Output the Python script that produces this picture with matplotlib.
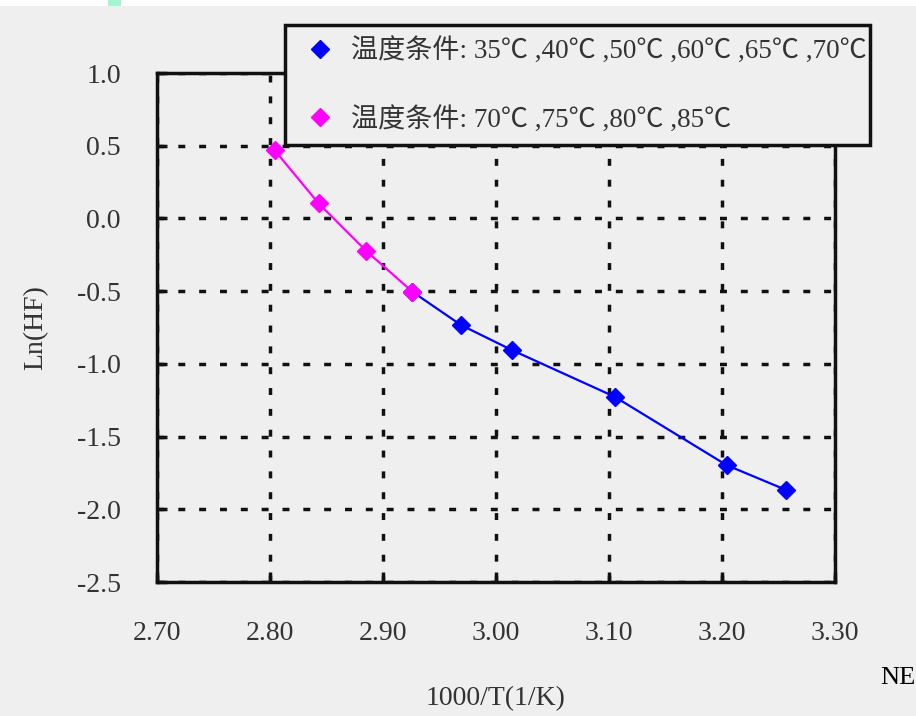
import matplotlib
matplotlib.use("Agg")
import matplotlib.pyplot as plt
from matplotlib.patches import Rectangle

# values
x_high = [2.804, 2.843, 2.885, 2.926]          # 70-85 C
ln_hf_high = [0.470, 0.104, -0.222, -0.504]
x_low = [2.926, 2.969, 3.014, 3.105, 3.204, 3.257]   # 35-70 C
ln_hf_low = [-0.504, -0.733, -0.905, -1.226, -1.696, -1.868]

label_low = "温度条件: 35℃ ,40℃ ,50℃ ,60℃ ,65℃ ,70℃"
label_high = "温度条件: 70℃ ,75℃ ,80℃ ,85℃"
x_ticks = [2.70, 2.80, 2.90, 3.00, 3.10, 3.20, 3.30]
y_ticks = [1.0, 0.5, 0.0, -0.5, -1.0, -1.5, -2.0, -2.5]

bg = "#efefef"
txt = "#333333"
serif = ["Liberation Serif", "Noto Sans CJK SC", "DejaVu Sans"]
plt.rcParams["font.family"] = serif

W, H = 916, 716
fig = plt.figure(figsize=(W / 100, H / 100), dpi=100, facecolor=bg)
ax = fig.add_axes([157 / W, 1 - 582 / H, 678 / W, 509 / H], facecolor=bg)

# fitted segments
ax.plot(x_low, ln_hf_low, color="#0000ff", lw=1.6, zorder=3)
ax.plot(x_high, ln_hf_high, color="#ff00ff", lw=1.6, zorder=3)
ax.plot(x_low, ln_hf_low, ls="none", marker="D", ms=9, color="#0000ff",
        label=label_low, zorder=4)
ax.plot(x_high, ln_hf_high, ls="none", marker="D", ms=9, color="#ff00ff",
        label=label_high, zorder=5)

ax.set_xlim(2.70, 3.30)
ax.set_ylim(-2.5, 1.0)
ax.set_xticks(x_ticks)
ax.set_xticklabels([f"{v:.2f}" for v in x_ticks])
ax.set_yticks(y_ticks)
ax.set_yticklabels([f"{v:.1f}" for v in y_ticks])
ax.tick_params(direction="in", length=7, width=2.5, colors="#111111",
               labelsize=20, labelcolor=txt)
ax.tick_params(axis="x", pad=28)
ax.tick_params(axis="y", pad=26)
ax.grid(True, color="#111111", lw=2.5, ls=(0, (2, 4)))
for s in ax.spines.values():
    s.set_linewidth(2.5)
    s.set_color("#111111")

ax.set_xlabel("1000/T(1/K)", fontsize=20, color=txt)
ax.xaxis.set_label_coords(0.5, -(699 - 582) / 509)
ax.xaxis.label.set_va("center")
ax.set_ylabel("Ln(HF)", fontsize=20, color=txt)
ax.yaxis.set_label_coords(-(157 - 36) / 678, 0.5)
ax.yaxis.label.set_va("center")

handles, labels = ax.get_legend_handles_labels()
leg = fig.legend(handles, labels, loc="upper left",
                 bbox_to_anchor=(285 / W, 1 - 25 / H, 585 / W, 0),
                 mode="expand", borderaxespad=0, fancybox=False,
                 framealpha=1, facecolor=bg, edgecolor="#111111",
                 prop={"family": serif, "size": 19.5}, labelcolor=txt,
                 handlelength=1.7, handletextpad=0.3, labelspacing=1.55,
                 borderpad=0.45, numpoints=1)
leg.get_frame().set_linewidth(2.5)

# scan artefacts at the edges of the reference
fig.patches.append(Rectangle((0, 1 - 6 / H), 1, 6 / H, transform=fig.transFigure,
                             facecolor="white", edgecolor="none"))
fig.patches.append(Rectangle((108 / W, 1 - 6 / H), 13 / W, 6 / H,
                             transform=fig.transFigure, facecolor="#a6f5d2",
                             edgecolor="none"))
fig.text(880 / W, 1 - 678 / H, "NE", fontsize=19, color="black",
         family="Liberation Serif", va="center", ha="left")

fig.savefig("out.png", dpi=100, facecolor=bg)
